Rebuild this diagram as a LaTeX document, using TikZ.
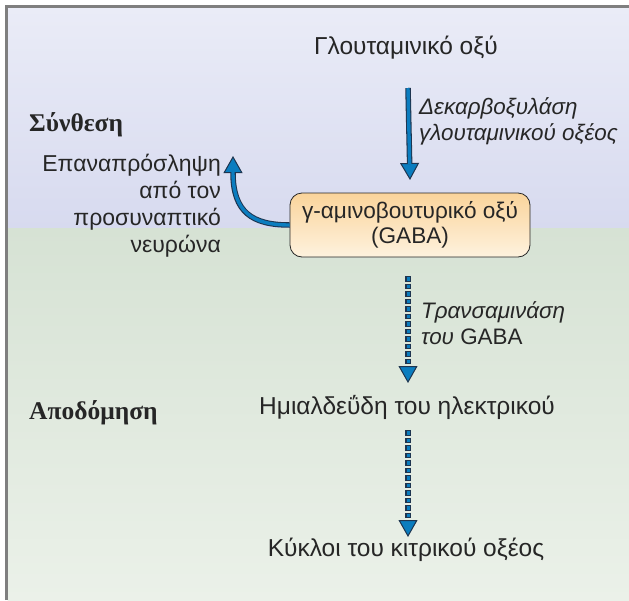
\documentclass[tikz,border=0pt]{standalone}
\usepackage{fontspec}
\setmainfont{Liberation Sans}
\newfontfamily\headfont{Liberation Serif}
\usetikzlibrary{arrows.meta}

\definecolor{lavtop}{HTML}{EAECF7}
\definecolor{lavbot}{HTML}{D7DAEF}
\definecolor{grntop}{HTML}{D6E2D4}
\definecolor{grnbot}{HTML}{EBF1E9}
\definecolor{framegray}{HTML}{7F7F7F}
\definecolor{arrowblue}{HTML}{0B7DBF}
\definecolor{arrowedge}{HTML}{1E3550}
\definecolor{boxtop}{HTML}{FAD49B}
\definecolor{boxbot}{HTML}{FEF2DE}
\definecolor{txtcol}{HTML}{262626}

\tikzset{
  txt/.style={font=\fontsize{24.5}{28}\selectfont, text=txtcol, inner sep=0pt},
  lbl/.style={font=\fontsize{22.4}{26}\selectfont\itshape, text=txtcol, inner sep=0pt, align=left, anchor=west},
  heading/.style={font=\headfont\bfseries\fontsize{25.5}{28}\selectfont, text=txtcol, inner sep=0pt, anchor=west},
  molbox/.style={draw=txtcol, line width=0.8pt, rounded corners=12pt,
    top color=boxtop, bottom color=boxbot, minimum width=240pt, minimum height=64pt,
    align=center, font=\fontsize{22.6}{26}\selectfont, text=txtcol, inner sep=0pt},
  arrowout/.style={draw=arrowedge, line width=5.5pt,
    -{Triangle[width=19pt,length=17pt,fill=arrowblue,line width=1pt]}},
  arrowin/.style={draw=arrowblue, line width=3.4pt, shorten >=16pt},
  dashout/.style={arrowout, dash pattern=on 5.5pt off 2pt},
  dashin/.style={arrowin, line width=3pt, dash pattern=on 3.5pt off 4pt, dash phase=-1pt}
}

\begin{document}
\begin{tikzpicture}[x=1pt, y=-1pt]
\useasboundingbox (0,0) rectangle (629,600);

% background bands
\shade[top color=lavtop, bottom color=lavbot] (7.5,7.5) rectangle (629,228);
\shade[top color=grntop, bottom color=grnbot] (7.5,228) rectangle (629,600);
\draw[framegray, line width=2.5pt] (6.25,600) -- (6.25,6.25) -- (629,6.25);

% section headings
\node[heading] (syn) at (29,125) {Σύνθεση};
\node[heading] (deg) at (29,413) {Αποδόμηση};

% metabolites
\node[txt] (glu) at (406,48) {Γλουταμινικό οξύ};
\node[molbox] (gaba) at (410,225) {γ-αμινοβουτυρικό οξύ\\[-1.5pt](GABA)};
\node[txt] (semi) at (407,407) {Ημιαλδεΰδη του ηλεκτρικού};
\node[txt] (krebs) at (406,550) {Κύκλοι του κιτρικού οξέος};

% reaction labels
\node[lbl] (decarb) at (419,121) {Δεκαρβοξυλάση\\γλουταμινικού οξέος};
\node[lbl] (trans) at (421,323) {Τρανσαμινάση\\του {\upshape GABA}};
\node[txt, anchor=east, align=right, font=\fontsize{23}{27}\selectfont] (reuptxt) at (221,206)
  {Επαναπρόσληψη\\από τον\\προσυναπτικό\\νευρώνα};
\coordinate (reup) at (233,156);

% synthesis: decarboxylation
\draw[arrowout] ([xshift=2pt,yshift=-40pt]glu.center) -- ([yshift=45pt]gaba.center);
\draw[arrowin]  ([xshift=2pt,yshift=-40pt]glu.center) -- ([yshift=45pt]gaba.center);

% reuptake
\draw[arrowout] (gaba.west) .. controls (252,225) and (233,212) .. (reup);
\draw[arrowin]  (gaba.west) .. controls (252,225) and (233,212) .. (reup);

% degradation
\draw[dashout] ([xshift=-2pt,yshift=-51pt]gaba.center) -- ([xshift=1pt,yshift=24pt]semi.center);
\draw[dashin]  ([xshift=-2pt,yshift=-51pt]gaba.center) -- ([xshift=1pt,yshift=24pt]semi.center);
\draw[dashout] ([xshift=1pt,yshift=-23pt]semi.center) -- ([xshift=2pt,yshift=13pt]krebs.center);
\draw[dashin]  ([xshift=1pt,yshift=-23pt]semi.center) -- ([xshift=2pt,yshift=13pt]krebs.center);
\end{tikzpicture}
\end{document}
